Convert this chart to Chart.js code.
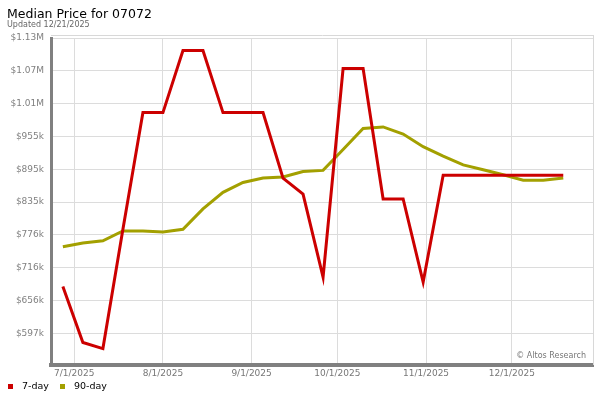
<!DOCTYPE html>
<html>
<head>
<meta charset="utf-8">
<script src="https://cdn.jsdelivr.net/npm/chart.js@4.4.1/dist/chart.umd.min.js"></script>
<style>
  html, body { margin: 0; padding: 0; background: #fff; }
  canvas { display: block; }
</style>
</head>
<body>
<canvas id="c" width="600" height="400"></canvas>
<script>
// ---- data ----
const titleText = 'Median Price for 07072';
const subtitleText = 'Updated 12/21/2025';
const creditText = '\u00A9 Altos Research';

const dates = ['2025-06-27','2025-07-04','2025-07-11','2025-07-18','2025-07-25','2025-08-01','2025-08-08','2025-08-15','2025-08-22','2025-08-29','2025-09-05','2025-09-12','2025-09-19','2025-09-26','2025-10-03','2025-10-10','2025-10-17','2025-10-24','2025-10-31','2025-11-07','2025-11-14','2025-11-21','2025-11-28','2025-12-05','2025-12-12','2025-12-19'];

const sevenDay = [682000, 580000, 569000, 786000, 998000, 998000, 1111000, 1111000, 998000, 998000, 998000, 879000, 850000, 699000, 1078000, 1078000, 841000, 841000, 690000, 884000, 884000, 884000, 884000, 884000, 884000, 884000];
const ninetyDay = [754000, 761000, 765000, 783000, 783000, 781000, 786000, 823000, 853000, 871000, 879000, 881000, 891000, 893000, 931000, 969000, 972000, 959000, 936000, 919000, 903000, 894000, 885000, 875000, 875000, 879000];

const seriesNames = ['7-day', '90-day'];

const xTickDates = ['2025-07-01','2025-08-01','2025-09-01','2025-10-01','2025-11-01','2025-12-01'];
const xTickLabels = ['7/1/2025','8/1/2025','9/1/2025','10/1/2025','11/1/2025','12/1/2025'];
const xRange = ['2025-06-23', '2025-12-29'];

const yTickValues = [596800, 656450, 716100, 775750, 835400, 895050, 954700, 1014350, 1074000, 1133650];
const yTickLabels = ['$597k','$656k','$716k','$776k','$835k','$895k','$955k','$1.01M','$1.07M','$1.13M'];
const yRange = [539200, 1133650];

// ---- helpers ----
function dayNum(s) {
  const p = s.split('-').map(Number);
  return Date.UTC(p[0], p[1] - 1, p[2]) / 86400000;
}
const colors = ['#cc0000', '#a3a000'];
const FONT = "'DejaVu Sans', sans-serif";

const decor = {
  id: 'decor',
  afterDraw(chart) {
    const ctx = chart.ctx;
    const a = chart.chartArea;
    ctx.save();
    // frame: top and right border
    ctx.strokeStyle = '#d8d8d8';
    ctx.lineWidth = 1;
    ctx.beginPath();
    ctx.moveTo(a.left, 35.5);
    ctx.lineTo(Math.round(a.right) + 1, 35.5);
    ctx.moveTo(Math.round(a.right) + 0.5, 35.5);
    ctx.lineTo(Math.round(a.right) + 0.5, a.bottom);
    ctx.stroke();
    // title
    ctx.fillStyle = '#000';
    ctx.textBaseline = 'alphabetic';
    ctx.textAlign = 'left';
    ctx.font = '12.5px ' + FONT;
    ctx.fillText(titleText, 7, 18);
    ctx.fillStyle = '#666';
    ctx.font = '8px ' + FONT;
    ctx.fillText(subtitleText, 7, 27);
    // credit
    ctx.fillStyle = '#777';
    ctx.textAlign = 'right';
    ctx.fillText(creditText, 586, 357.5);
    // legend
    ctx.textAlign = 'left';
    ctx.textBaseline = 'middle';
    ctx.font = '9.5px ' + FONT;
    const lx = [8, 60];
    chart.data.datasets.forEach((ds, i) => {
      ctx.fillStyle = ds.borderColor;
      ctx.fillRect(lx[i], 384, 5, 5);
      ctx.fillStyle = '#000';
      ctx.fillText(ds.label, lx[i] + 14, 387);
    });
    ctx.restore();
  }
};

const xDays = dates.map(dayNum);

new Chart(document.getElementById('c'), {
  type: 'line',
  data: {
    datasets: [
      {
        label: seriesNames[0],
        data: xDays.map((x, i) => ({ x: x, y: sevenDay[i] })),
        borderColor: colors[0],
        backgroundColor: colors[0],
        borderWidth: 3,
        pointRadius: 0,
        tension: 0,
        fill: false
      },
      {
        label: seriesNames[1],
        data: xDays.map((x, i) => ({ x: x, y: ninetyDay[i] })),
        borderColor: colors[1],
        backgroundColor: colors[1],
        borderWidth: 3,
        pointRadius: 0,
        tension: 0,
        fill: false
      }
    ]
  },
  options: {
    responsive: false,
    animation: false,
    devicePixelRatio: 1,
    layout: { padding: { left: 0, right: 7, top: 38, bottom: 0 } },
    plugins: {
      legend: { display: false },
      tooltip: { enabled: false },
      title: { display: false }
    },
    scales: {
      x: {
        type: 'linear',
        min: dayNum(xRange[0]) - 0.15,
        max: dayNum(xRange[1]) + 0.4,
        afterBuildTicks(scale) {
          scale.ticks = xTickDates.map(d => ({ value: dayNum(d) }));
        },
        afterFit(scale) { scale.height = 35; },
        ticks: {
          autoSkip: false,
          maxRotation: 0,
          padding: 3,
          color: '#777',
          font: { family: FONT, size: 9 },
          callback(v, idx) { return xTickLabels[idx]; }
        },
        grid: { color: '#dcdcdc', lineWidth: 1, drawTicks: false },
        border: { color: '#808080', width: 4 }
      },
      y: {
        type: 'linear',
        min: yRange[0],
        max: yRange[1],
        afterBuildTicks(scale) {
          scale.ticks = yTickValues.map(v => ({ value: v }));
        },
        afterFit(scale) { scale.width = 51; },
        ticks: {
          autoSkip: false,
          padding: 7,
          color: '#808080',
          font: { family: FONT, size: 9 },
          callback(v, idx) { return yTickLabels[idx]; }
        },
        grid: { color: '#dcdcdc', lineWidth: 1, drawTicks: false },
        border: { color: '#808080', width: 3 }
      }
    }
  },
  plugins: [decor]
});
</script>
</body>
</html>
